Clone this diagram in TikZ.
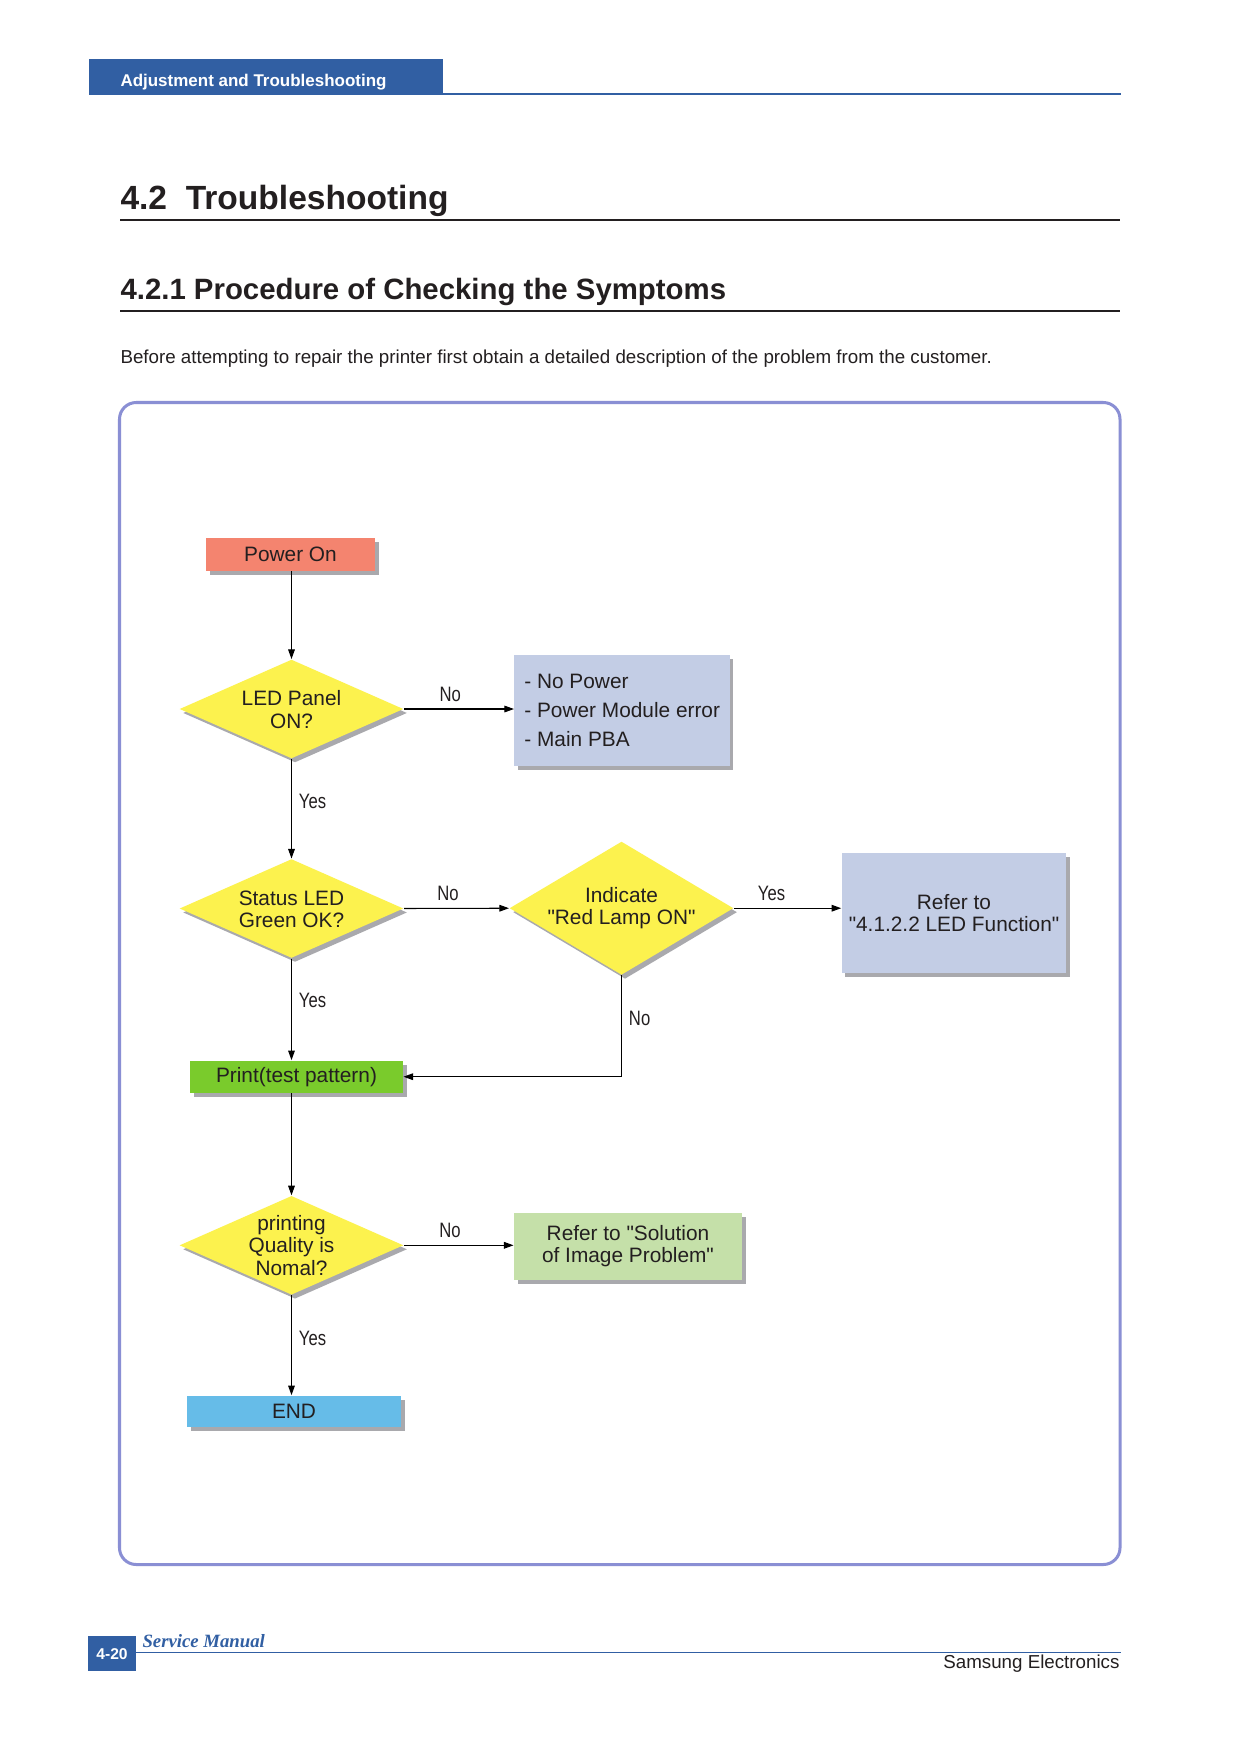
\documentclass[tikz,border=0pt]{standalone}
\usepackage{fontspec}
\setmainfont{Liberation Sans}[Ligatures=TeXOff]
\newfontfamily\narrowfont{Liberation Sans}[FakeStretch=0.8]
\newfontfamily\manualfont{Liberation Serif}
\usepackage{tikz}
\usetikzlibrary{positioning,shapes.geometric,shadows,arrows.meta}

\definecolor{hdrblue}{HTML}{315FA3}
\definecolor{framec}{HTML}{8A8FD4}
\definecolor{powerc}{HTML}{F4846F}
\definecolor{yellowc}{HTML}{FCF24E}
\definecolor{lavbox}{HTML}{C3CDE5}
\definecolor{greenc}{HTML}{7ACB2C}
\definecolor{lgreen}{HTML}{C5E0A9}
\definecolor{endblue}{HTML}{66BCE8}
\definecolor{shadowc}{HTML}{A9A9AD}
\definecolor{txt}{HTML}{231F20}

\tikzset{
  shade/.style={drop shadow={shadow xshift=1.7pt,shadow yshift=-1.9pt,fill=shadowc,opacity=1}},
  box/.style={rectangle,shade,inner sep=2pt,align=center,text=txt,font=\fontsize{10}{10.8}\selectfont},
  decision/.style={diamond,shade,fill=yellowc,inner sep=0pt,shape aspect=2.26,minimum width=107.5pt,minimum height=47.5pt,align=center,text=txt,font=\fontsize{10}{10.8}\selectfont},
  yn/.style={text=txt,font=\narrowfont\fontsize{10}{12}\selectfont},
}

\begin{document}
\begin{tikzpicture}[x=0.48pt,y=-0.48pt,>={Triangle[length=4.6pt,width=3.2pt]},line width=0.5pt]
\useasboundingbox[fill=white] (0,0) rectangle (1240,1754);
% 页眉
\fill[hdrblue] (88.5,59) rectangle (443,94.5);
\draw[hdrblue,line width=0.6pt] (443,94) -- (1121,94);
\node[anchor=base west,inner sep=0,text=white,font=\bfseries\fontsize{8.15}{10}\selectfont] (hdr) at (120,86) {Adjustment and Troubleshooting};
% 标题
\node[anchor=base west,inner sep=0,text=txt,font=\bfseries\fontsize{16.1}{19}\selectfont] (title) at (120,209.5) {4.2\ \ Troubleshooting};
\draw[txt,line width=1pt] (120,220) -- (1120,220);
\node[anchor=base west,inner sep=0,text=txt,font=\bfseries\fontsize{14.1}{16}\selectfont] (subtitle) at (120,299) {4.2.1 Procedure of Checking the Symptoms};
\draw[txt,line width=1pt] (120,311) -- (1120,311);
\node[anchor=base west,inner sep=0,text=txt,font=\fontsize{9}{11}\selectfont] (intro) at (120,363.5) {Before attempting to repair the printer first obtain a detailed description of the problem from the customer.};
% 外框
\draw[framec,line width=1.45pt,rounded corners=8pt] (119.5,402.5) rectangle (1120,1564.5);

% 流程图
\node[box,fill=powerc,minimum width=81.1pt,minimum height=15.6pt] (power) at (290.5,554.5) {Power On};
\node[decision] (led) at (291.5,709) {\strut LED Panel\\ON?};
\node[box,fill=lavbox,minimum width=103.4pt,minimum height=53.3pt,align=left,font=\fontsize{10}{14}\selectfont] (nopow) at (622.2,710.7) {- No Power\\- Power Module error\\- Main PBA};
\node[decision] (status) at (291.5,908.5) {\strut Status LED\\Green OK?};
\node[decision,inner sep=-3pt,minimum height=64pt,shape aspect=1.68] (red) at (621.5,908.2) {Indicate\\"Red Lamp ON"};
\node[box,fill=lavbox,minimum width=107.8pt,minimum height=57.5pt] (ledfn) at (954,913) {Refer to\\"4.1.2.2 LED Function"};
\node[box,fill=greenc,minimum width=102.2pt,minimum height=15.4pt] (print) at (296.5,1076.7) {Print(test pattern)};
\node[decision,inner sep=-5pt] (qual) at (291.5,1245.3) {printing\\Quality is\\Nomal?};
\node[box,fill=lgreen,minimum width=109.4pt,minimum height=32.3pt] (sol) at (628,1246.3) {Refer to "Solution\\of Image Problem"};
\node[box,fill=endblue,minimum width=102.7pt,minimum height=14.9pt] (fin) at (294,1411.2) {END};

\draw[->] (led.north |- power.south) -- (led.north);
\draw[->] (led.east) -- node[yn,above,pos=0.42]{No} (led.east -| nopow.west);
\draw[->] (led.south) -- node[yn,right,pos=0.43]{Yes} (status.north);
\draw[->] (status.east) -- node[yn,above,pos=0.42]{No} (red.west);
\draw[->] (red.east) -- node[yn,above,pos=0.35]{Yes} (red.east -| ledfn.west);
\draw[->] (status.south) -- node[yn,right,pos=0.41]{Yes} (status.south |- print.north);
\draw[->] (red.south) |- node[yn,right,pos=0.21]{No} (print.east);
\draw[->] (qual.north |- print.south) -- (qual.north);
\draw[->] (qual.east) -- node[yn,above,pos=0.42]{No} (qual.east -| sol.west);
\draw[->] (qual.south) -- node[yn,right,pos=0.43]{Yes} (qual.south |- fin.north);

% 页脚
\fill[hdrblue] (88.3,1635.7) rectangle (135.7,1670.7);
\node[text=white,font=\bfseries\fontsize{7.5}{9}\selectfont] (page) at (112,1654) {4-20};
\draw[hdrblue,line width=0.6pt] (135.7,1652.5) -- (1121,1652.5);
\node[anchor=base west,inner sep=0,text=hdrblue,font=\manualfont\bfseries\itshape\fontsize{9}{11}\selectfont] (manual) at (142,1647.5) {Service Manual};
\node[anchor=base east,inner sep=0,text=txt,font=\fontsize{9}{11}\selectfont] (maker) at (1120,1668) {Samsung Electronics};
\end{tikzpicture}
\end{document}
